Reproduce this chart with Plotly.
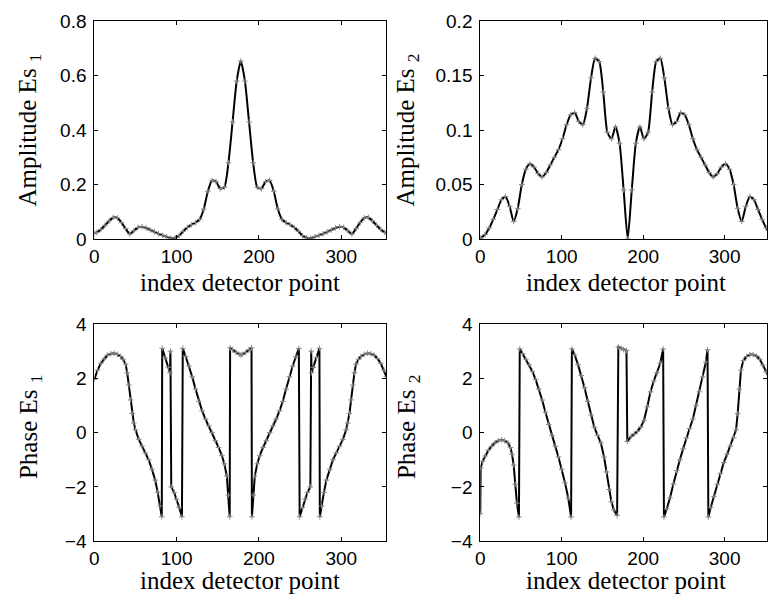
import plotly.graph_objects as go

# ---------------- data ----------------
amp1_x = [0, 3, 8, 13, 18, 23, 28, 33, 38, 43, 48, 53, 58, 63, 68, 73, 78, 83, 88, 93,
          98, 103, 108, 113, 118, 123, 128, 133, 138, 143, 148, 153, 158, 163, 168, 173,
          178, 183, 188, 193, 198, 203, 208, 213, 218, 223, 228, 233, 238, 243, 248, 253,
          258, 263, 268, 273, 278, 283, 288, 293, 298, 303, 308, 313, 318, 323, 328, 333,
          338, 343, 348, 353, 355]
amp1_y = [0.022, 0.024, 0.035, 0.05, 0.066, 0.079, 0.077, 0.06, 0.038, 0.018, 0.03, 0.042,
          0.045, 0.04, 0.033, 0.026, 0.019, 0.013, 0.008, 0.003, 0.004, 0.012, 0.028, 0.042,
          0.052, 0.06, 0.072, 0.11, 0.175, 0.215, 0.21, 0.185, 0.19, 0.28, 0.43, 0.58,
          0.654, 0.58, 0.43, 0.28, 0.19, 0.185, 0.21, 0.215, 0.175, 0.11, 0.072, 0.06,
          0.052, 0.042, 0.028, 0.012, 0.004, 0.003, 0.008, 0.013, 0.019, 0.026, 0.033,
          0.04, 0.045, 0.042, 0.03, 0.018, 0.038, 0.06, 0.077, 0.079, 0.066, 0.05, 0.035,
          0.024, 0.022]

amp2_x = [0, 1, 6, 11, 16, 21, 26, 31, 36, 41, 46, 51, 56, 61, 66, 71, 76, 81, 86, 91,
          96, 101, 106, 111, 116, 121, 126, 131, 136, 141, 146, 151, 156, 161, 166, 171,
          176, 181, 186, 191, 196, 201, 206, 211, 216, 221, 226, 231, 236, 241, 246, 251,
          256, 261, 266, 271, 276, 281, 286, 291, 296, 301, 306, 311, 316, 321, 326, 331,
          336, 341, 346, 351, 356]
amp2_y = [0.0, 0.001, 0.004, 0.01, 0.018, 0.027, 0.036, 0.039, 0.03, 0.016, 0.028, 0.05,
          0.064, 0.069, 0.066, 0.06, 0.057, 0.061, 0.068, 0.075, 0.082, 0.092, 0.105, 0.114,
          0.116, 0.108, 0.105, 0.12, 0.148, 0.166, 0.163, 0.135, 0.098, 0.092, 0.103, 0.088,
          0.045, 0.0, 0.045, 0.088, 0.103, 0.092, 0.098, 0.135, 0.163, 0.166, 0.148, 0.12,
          0.105, 0.108, 0.116, 0.114, 0.105, 0.092, 0.082, 0.075, 0.068, 0.061, 0.057, 0.06,
          0.066, 0.069, 0.064, 0.05, 0.028, 0.016, 0.03, 0.039, 0.036, 0.027, 0.018, 0.01,
          0.004]

ph1_x = [0, 4, 8, 12, 16, 20, 24, 28, 32, 35, 38, 40, 42, 44, 46, 48, 50, 54, 58, 62,
         66, 70, 74, 77, 80, 82, 82.5, 86, 90, 92, 92.5, 93.5, 97, 100, 103, 106.5, 107.5,
         111, 115, 119, 123, 127, 131, 135, 139, 143, 147, 151, 155, 158, 161, 163, 164.5,
         165, 168, 172, 176, 178, 180, 184, 188, 191, 191.5, 193, 195, 198, 201, 205, 209,
         213, 217, 221, 225, 229, 233, 237, 241, 245, 248.5, 249.5, 253, 256, 259, 262.5,
         263.5, 264, 266, 270, 273.5, 274, 276, 279, 282, 286, 290, 294, 298, 302, 306,
         308, 310, 312, 314, 316, 318, 321, 324, 328, 332, 336, 340, 344, 348, 352, 355]
ph1_y = [1.96, 2.3, 2.55, 2.72, 2.85, 2.9, 2.92, 2.88, 2.8, 2.7, 2.52, 2.2, 1.75, 1.2, 0.7,
         0.35, 0.1, -0.25, -0.5, -0.75, -1.0, -1.35, -1.75, -2.2, -2.7, -3.1, 3.1, 2.75,
         2.4, 2.2, 3.0, -2.0, -2.2, -2.45, -2.75, -3.1, 3.1, 2.8, 2.45, 2.05, 1.6, 1.15, 0.8,
         0.5, 0.25, 0.0, -0.3, -0.55, -0.85, -1.15, -1.6, -2.3, -3.1, 3.12, 3.05, 2.95, 2.88,
         2.86, 2.88, 2.95, 3.05, 3.12, -3.1, -2.3, -1.6, -1.15, -0.85, -0.55, -0.3, 0.0,
         0.25, 0.5, 0.8, 1.15, 1.6, 2.05, 2.45, 2.8, 3.1, -3.1, -2.75, -2.45, -2.2, -2.0,
         3.0, 2.2, 2.4, 2.75, 3.1, -3.1, -2.7, -2.2, -1.75, -1.35, -1.0, -0.75, -0.5, -0.25,
         0.1, 0.35, 0.7, 1.2, 1.75, 2.2, 2.52, 2.7, 2.8, 2.88, 2.92, 2.9, 2.85, 2.72, 2.55,
         2.3, 2.05]

ph2_x = [0, 0.5, 3, 6, 10, 14, 18, 22, 26, 30, 34, 37, 39, 41, 43, 45, 47.5, 48.5, 52, 56,
         60, 64, 68, 72, 76, 80, 84, 88, 92, 96, 100, 104, 108, 111.5, 112.5, 116, 120, 124,
         128, 132, 136, 140, 144, 148, 152, 155, 158, 161, 164, 168, 169.5, 173, 176, 179.5,
         180.5, 185, 189, 193, 197, 201, 205, 209, 213, 217, 221, 224.5, 225.5, 229, 233,
         237, 241, 245, 249, 253, 257, 261, 265, 269, 273, 277, 279, 280, 283, 287, 291,
         295, 299, 303, 307, 311, 314, 316, 318, 320, 323, 327, 331, 335, 339, 343, 347,
         351, 355]
ph2_y = [-2.99, -1.3, -1.05, -0.86, -0.65, -0.5, -0.38, -0.3, -0.27, -0.3, -0.38, -0.55,
         -0.8, -1.2, -1.9, -2.6, -3.11, 3.08, 2.9, 2.7, 2.5, 2.25, 1.95, 1.6, 1.2, 0.75, 0.3,
         -0.1, -0.5, -0.9, -1.35, -1.85, -2.4, -3.11, 3.08, 2.85, 2.5, 2.1, 1.65, 1.15, 0.65,
         0.2, -0.1, -0.38, -0.9, -1.45, -2.1, -2.55, -2.85, -3.05, 3.15, 3.1, 3.05, 3.02,
         -0.33, -0.15, -0.05, 0.05, 0.2, 0.45, 0.95, 1.5, 1.9, 2.2, 2.55, 3.08, -3.11, -2.8,
         -2.4, -1.9, -1.4, -1.0, -0.6, -0.2, 0.15, 0.5, 1.0, 1.5, 2.05, 2.6, 3.05, -3.11,
         -2.75, -2.35, -1.9, -1.5, -1.1, -0.8, -0.5, -0.2, 0.1, 0.7, 1.6, 2.3, 2.65, 2.8,
         2.87, 2.87, 2.82, 2.7, 2.48, 2.25, 2.0]

x_ticks = [0, 100, 200, 300]
x_label = "index detector point"
y_labels = ["Amplitude Es <sub>1</sub>", "Amplitude Es <sub>2</sub>",
            "Phase Es <sub>1</sub>", "Phase Es <sub>2</sub>"]

# ---------------- layout helpers ----------------
W, H = 768, 615
def fx(px):
    return px / W
def fy(py):
    return 1 - py / H

panels = [
    (amp1_x, amp1_y, "spline", (90, 384.5), (11.7, 237), [0, 355], [0, 0.8], 0.2),
    (amp2_x, amp2_y, "spline", (479, 768), (11.7, 237), [0, 352], [0, 0.2], 0.05),
    (ph1_x, ph1_y, "linear", (90, 384.5), (325, 550), [0, 355], [-4, 4], 2),
    (ph2_x, ph2_y, "linear", (479, 768), (325, 550), [0, 352], [-4, 4], 2),
]

fig = go.Figure()
tick_font = dict(family="Liberation Sans, Arial, sans-serif", size=19, color="black")
label_font = dict(family="Liberation Serif, Times New Roman, serif", size=25, color="black")

ylab_pos = [(25, 124), (406, 124), (25, 431), (406, 431)]
xlab_pos = [(237, 282), (626, 282), (237, 591), (626, 591)]

for i, (xs, ys, shape, xd, yd, xr, yr, dt) in enumerate(panels):
    n = i + 1
    xa = "x" if n == 1 else f"x{n}"
    ya = "y" if n == 1 else f"y{n}"
    fig.add_trace(go.Scatter(
        x=xs, y=ys, xaxis=xa, yaxis=ya, mode="lines+markers",
        line=dict(color="black", width=2, shape=shape, smoothing=0.6 if shape == "spline" else None),
        marker=dict(symbol="cross-thin", size=4, color="#888888",
                    line=dict(color="#888888", width=1)),
        showlegend=False, hoverinfo="skip"))
    axis_common = dict(showline=True, linecolor="black", linewidth=1, mirror="allticks",
                       ticks="inside", ticklen=4, tickcolor="black", showgrid=False,
                       zeroline=False, tickfont=tick_font)
    fig.update_layout(**{
        ("xaxis" if n == 1 else f"xaxis{n}"): dict(
            domain=[fx(xd[0]), fx(xd[1])], range=xr, tickvals=x_ticks,
            anchor=ya, ticklabelstandoff=0, **axis_common),
        ("yaxis" if n == 1 else f"yaxis{n}"): dict(
            domain=[fy(yd[1]), fy(yd[0])], range=yr, dtick=dt, tick0=0,
            anchor=xa, ticklabelstandoff=3, **axis_common),
    })
    fig.add_annotation(text=y_labels[i], x=fx(ylab_pos[i][0]), y=fy(ylab_pos[i][1]),
                       xref="paper", yref="paper", textangle=-90, showarrow=False,
                       xanchor="center", yanchor="middle", font=label_font)
    fig.add_annotation(text=x_label, x=fx(xlab_pos[i][0]), y=fy(xlab_pos[i][1]),
                       xref="paper", yref="paper", showarrow=False,
                       xanchor="center", yanchor="middle", font=label_font)

fig.update_layout(width=W, height=H, margin=dict(l=0, r=0, t=0, b=0),
                  paper_bgcolor="white", plot_bgcolor="white")

fig.write_html("out.html", config={"displayModeBar": False},
               post_script="document.body.style.margin='0';")
